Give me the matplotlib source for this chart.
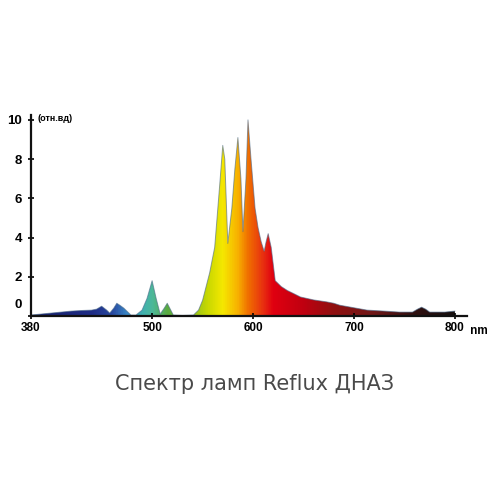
import numpy as np
import matplotlib
matplotlib.use("Agg")
import matplotlib.pyplot as plt
import matplotlib.transforms as mtransforms
from matplotlib.colors import LinearSegmentedColormap
from matplotlib.patches import Polygon

# spectrum (nm, relative units)
wavelength = [380, 390, 400, 410, 420, 430, 440, 445, 450, 455, 458, 462, 465, 468,
              472, 476, 479, 484, 490, 495, 500, 504, 508, 512, 515, 518, 521, 530,
              541, 546, 550, 554, 557, 562, 567, 570, 572, 575, 579, 582, 585, 588,
              590, 593, 595, 598, 602, 605, 608, 611, 613, 615, 618, 622, 628, 634,
              640, 647, 660, 673, 680, 686, 700, 713, 730, 745, 758, 763, 767, 771,
              775, 790, 800]
intensity = [0.05, 0.1, 0.15, 0.2, 0.25, 0.28, 0.3, 0.35, 0.5, 0.3, 0.15, 0.4, 0.65, 0.55,
             0.4, 0.2, 0.05, 0.05, 0.3, 0.9, 1.8, 0.9, 0.1, 0.4, 0.65, 0.35, 0.05, 0.03,
             0.05, 0.3, 0.8, 1.6, 2.2, 3.5, 6.7, 8.7, 8.0, 3.7, 5.5, 7.5, 9.1, 7.0,
             4.3, 7.0, 10.0, 8.0, 5.5, 4.5, 3.8, 3.3, 3.8, 4.2, 3.5, 1.8, 1.5, 1.3,
             1.15, 0.97, 0.82, 0.72, 0.65, 0.55, 0.42, 0.3, 0.25, 0.2, 0.2, 0.35, 0.45, 0.35,
             0.2, 0.2, 0.25]

xticks = [380, 500, 600, 700, 800]
yticks = [0, 2, 4, 6, 8, 10]
title = "Спектр ламп Reflux ДНАЗ"

# colour of the fill by wavelength
stops = [(380, "#18206a"), (440, "#1f2c85"), (460, "#2848a0"), (475, "#3a88c6"),
         (490, "#40b0b0"), (500, "#4db89a"), (515, "#5aaa40"), (540, "#90c020"),
         (555, "#c8d800"), (570, "#f5e800"), (585, "#f8b000"), (595, "#f07000"),
         (610, "#e83010"), (620, "#e00010"), (650, "#c00010"), (680, "#901010"),
         (720, "#701818"), (760, "#301010"), (812, "#101010")]
lo, hi = 380, 812
cmap = LinearSegmentedColormap.from_list(
    "spec", [((w - lo) / (hi - lo), c) for w, c in stops])

fig = plt.figure(figsize=(5, 5), dpi=100)
ax = fig.add_axes([0.062, 0.368, 0.872, 0.402])

ax.set_xlim(lo, hi)
ax.set_ylim(0, 10.25)

verts = [(wavelength[0], 0)] + list(zip(wavelength, intensity)) + [(wavelength[-1], 0)]
poly = Polygon(verts, closed=True, facecolor="none", edgecolor="none")
ax.add_patch(poly)
grad = np.linspace(0, 1, 512).reshape(1, -1)
im = ax.imshow(grad, cmap=cmap, aspect="auto", extent=[lo, hi, 0, 10.25],
               origin="lower", zorder=1)
im.set_clip_path(poly)
ax.plot(wavelength, intensity, color="#4a6a8a", lw=0.7, alpha=0.6, zorder=2)

for s in ["top", "right"]:
    ax.spines[s].set_visible(False)
for s in ["left", "bottom"]:
    ax.spines[s].set_linewidth(1.6)
    ax.spines[s].set_color("#111111")

ax.set_xticks(xticks)
ax.set_xticklabels([str(t) for t in xticks])
ax.set_yticks(yticks)
ax.set_yticklabels([str(t) for t in yticks])
ax.tick_params(axis="both", direction="inout", length=5, width=1.2, pad=2)
ax.tick_params(axis="x", labelsize=8.5)
ax.tick_params(axis="y", labelsize=9.5, pad=4)
for lab in ax.get_xticklabels() + ax.get_yticklabels():
    lab.set_fontweight("bold")
    lab.set_fontfamily("Liberation Sans")
# the "0" label sits a little above the baseline in the original
zero_lab = ax.get_yticklabels()[0]
zero_lab.set_transform(zero_lab.get_transform() +
                       mtransforms.ScaledTranslation(0, 12 / 100, fig.dpi_scale_trans))

ax.text(1.0, -0.045, " nm", transform=ax.transAxes, fontsize=8.5, fontweight="bold",
        fontfamily="Liberation Sans", va="top", ha="left")
ax.text(0.015, 0.985, "(отн.вд)", transform=ax.transAxes, fontsize=6.5,
        fontweight="bold", fontfamily="Liberation Sans", va="center", ha="left")

fig.text(0.51, 0.232, title, ha="center", va="center", fontsize=15, color="#4a4a4a")

fig.savefig("out.png", dpi=100, facecolor="white")
